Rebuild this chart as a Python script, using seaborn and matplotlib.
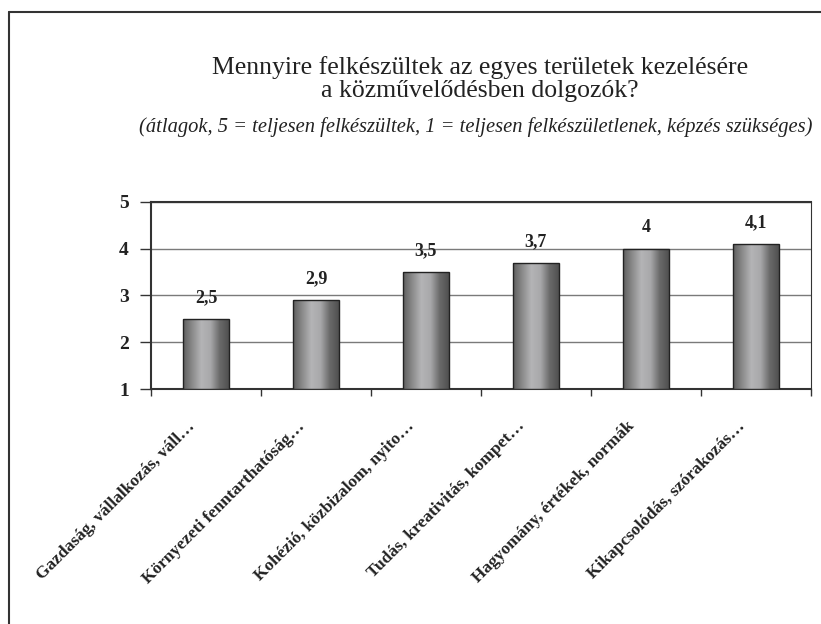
import matplotlib
matplotlib.use('Agg')
import matplotlib.pyplot as plt
import matplotlib.transforms as mtransforms
from matplotlib.colors import LinearSegmentedColormap
from matplotlib.lines import Line2D
import numpy as np
import pandas as pd
import seaborn as sns

# Data
categories = ['Gazdaság, vállalkozás, váll…',
              'Környezeti fenntarthatóság…',
              'Kohézió, közbizalom, nyito…',
              'Tudás, kreativitás, kompet…',
              'Hagyomány, értékek, normák',
              'Kikapcsolódás, szórakozás…']
means = [2.5, 2.9, 3.5, 3.7, 4.0, 4.1]
value_labels = ['2,5', '2,9', '3,5', '3,7', '4', '4,1']
y_ticks = [1, 2, 3, 4, 5]

df = pd.DataFrame({'area': categories, 'mean': means})

sns.set_theme(style='white')
plt.rcParams['font.family'] = ['Liberation Serif', 'DejaVu Serif']

fig = plt.figure(figsize=(8.21, 6.24), dpi=100)
ax = fig.add_axes([0.1839, 0.3766, 0.8039, 0.2997])

# Bars (drawn from value 1 upwards, as the axis starts at 1)
df['height'] = df['mean'] - 1
sns.barplot(data=df, x='area', y='height', ax=ax, width=0.41,
            color='#999999', edgecolor='#222222', linewidth=1.0,
            bottom=1, zorder=3)

# Cylinder-like grey shading on every bar
shade = LinearSegmentedColormap.from_list(
    'shade', ['#5e5e5e', '#8a8a8a', '#b4b4b6', '#a8a8aa', '#6a6a6a', '#505050'])
grad = np.linspace(0, 1, 256).reshape(1, -1)
for patch in ax.patches:
    x0, y0 = patch.get_x(), patch.get_y()
    w, h = patch.get_width(), patch.get_height()
    im = ax.imshow(grad, cmap=shade, aspect='auto', zorder=3.5,
                   extent=[x0, x0 + w, y0, y0 + h], origin='lower')
    im.set_clip_path(patch)
    patch.set_facecolor('none')
    patch.set_zorder(4)

# Value labels above bars
for i, (v, lab) in enumerate(zip(means, value_labels)):
    ax.annotate(lab, (i, v), xytext=(0, 9), textcoords='offset points',
                ha='center', va='bottom', fontsize=13, fontweight='bold',
                color='#222222')

ax.set_xlim(-0.5, len(categories) - 0.5)
ax.set_ylim(1, 5)
ax.set_yticks(y_ticks)
ax.set_yticklabels([str(t) for t in y_ticks], fontsize=14, fontweight='bold',
                   color='#222222')
ax.yaxis.grid(True, color='#7a7a7a', linewidth=1.0, zorder=0)
ax.set_axisbelow(True)

# Ticks at category boundaries, labels at centres
ax.set_xticks(np.arange(-0.5, len(categories) + 0.5, 1.0))
ax.set_xticklabels([])
ax.set_xticks(np.arange(len(categories)), minor=True)
ax.set_xticklabels(categories, minor=True, rotation=45, ha='right',
                   rotation_mode='anchor', fontsize=12.5, fontweight='bold',
                   color='#222222')
ax.tick_params(axis='x', which='major', direction='out', length=5,
               width=1, color='#333333', bottom=True)
ax.tick_params(axis='x', which='minor', length=0, pad=21)
ax.tick_params(axis='y', direction='out', length=8, width=1,
               color='#333333', left=True, pad=8)
offset = mtransforms.ScaledTranslation(-14 / 72, 0, fig.dpi_scale_trans)
for lbl in ax.get_xticklabels(minor=True):
    lbl.set_transform(lbl.get_transform() + offset)

ax.set_xlabel('')
ax.set_ylabel('')
for side in ['left', 'bottom', 'top']:
    ax.spines[side].set_color('#333333')
    ax.spines[side].set_linewidth(1.5)
ax.spines['right'].set_color('#333333')
ax.spines['right'].set_linewidth(0.8)

# Titles
fig.text(480 / 821, 1 - 68 / 624,
         'Mennyire felkészültek az egyes területek kezelésére',
         ha='center', va='center', fontsize=18.5, color='#222222')
fig.text(480 / 821, 1 - 91 / 624, 'a közművelődésben dolgozók?',
         ha='center', va='center', fontsize=18.5, color='#222222')
fig.text(476 / 821, 1 - 127 / 624, '(átlagok, 5 = teljesen felkészültek, '
         '1 = teljesen felkészületlenek, képzés szükséges)',
         ha='center', va='center', fontsize=14.8, style='italic',
         color='#222222')

# Outer frame (top and left edges)
fig.add_artist(Line2D([9 / 821, 1], [1 - 12 / 624, 1 - 12 / 624],
                      transform=fig.transFigure, color='#333333', lw=1.5))
fig.add_artist(Line2D([9 / 821, 9 / 821], [0, 1 - 12 / 624],
                      transform=fig.transFigure, color='#333333', lw=1.5))

fig.savefig('out.png', dpi=100)
